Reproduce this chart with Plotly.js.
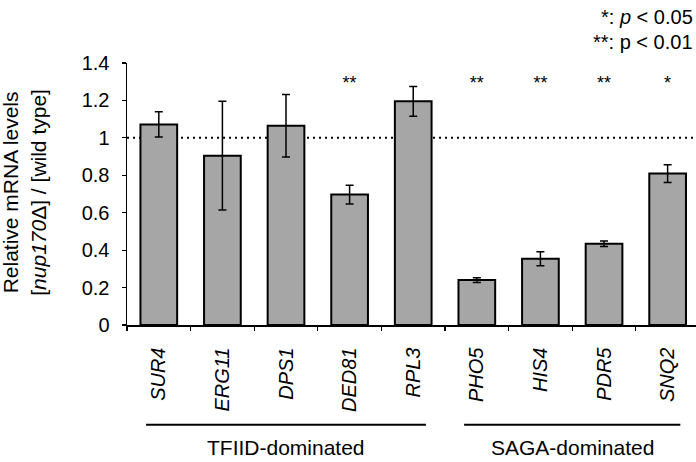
<!DOCTYPE html>
<html>
<head>
<meta charset="utf-8">
<script src="https://cdn.plot.ly/plotly-3.0.1.min.js"></script>
<style>html,body{margin:0;padding:0;background:#fff;}#chart{width:696px;height:462px;}</style>
</head>
<body>
<div id="chart"></div>
<script>
const genes = ['SUR4', 'ERG11', 'DPS1', 'DED81', 'RPL3', 'PHO5', 'HIS4', 'PDR5', 'SNQ2'];
const ratios = [1.072, 0.905, 1.065, 0.697, 1.195, 0.240, 0.354, 0.434, 0.809];
const errors = [0.067, 0.290, 0.167, 0.050, 0.080, 0.013, 0.038, 0.015, 0.047];
const significance = ['', '', '', '**', '', '**', '**', '**', '*'];
const sigLevel = 1.285;
const groupNames = ['TFIID-dominated', 'SAGA-dominated'];
const groupFirst = [0, 5];
const groupLast = [4, 8];
const yTicks = [0, 0.2, 0.4, 0.6, 0.8, 1, 1.2, 1.4];
const yTickText = ['0', '0.2', '0.4', '0.6', '0.8', '1', '1.2', '1.4'];
const referenceLevel = 1;

const FONT = 'Liberation Sans, Arial, sans-serif';

const bars = {
  type: 'bar',
  x: genes,
  y: ratios,
  width: 0.577,
  marker: {color: '#a6a6a6', line: {color: '#000', width: 2}},
  error_y: {type: 'data', array: errors, visible: true, color: '#000', thickness: 1.5, width: 4},
  hoverinfo: 'skip',
  showlegend: false
};
const stars = {
  type: 'scatter',
  mode: 'text',
  x: genes,
  y: genes.map(() => sigLevel),
  text: significance,
  textfont: {family: FONT, size: 18, color: '#000'},
  hoverinfo: 'skip',
  showlegend: false,
  cliponaxis: false
};

const shapes = [{
  type: 'line', xref: 'paper', yref: 'y', x0: 0, x1: 1, y0: referenceLevel, y1: referenceLevel,
  layer: 'below', line: {color: '#000', width: 2, dash: '2px,4px'}
}];
const annotations = [];
groupNames.forEach((name, i) => {
  shapes.push({
    type: 'line', xref: 'x', yref: 'paper', x0: groupFirst[i] - 0.2, x1: groupLast[i] + 0.2,
    y0: -0.381, y1: -0.381, line: {color: '#000', width: 2}
  });
  annotations.push({
    xref: 'x', yref: 'paper', x: (groupFirst[i] + groupLast[i]) / 2, y: -0.469,
    text: name, showarrow: false, xanchor: 'center', yanchor: 'middle',
    font: {family: FONT, size: 21, color: '#000'}
  });
});
annotations.push({
  xref: 'paper', yref: 'paper', x: -0.18, y: 0.507, textangle: -90,
  text: 'Relative mRNA levels<br>[<i>nup170</i>Δ] / [wild type]',
  showarrow: false, xanchor: 'center', yanchor: 'middle',
  font: {family: FONT, size: 21, color: '#000'}
});
annotations.push({
  xref: 'paper', yref: 'paper', x: 0.9985, y: 1.177, xanchor: 'right', yanchor: 'middle',
  text: '*: <i>p</i> &lt; 0.05', showarrow: false,
  font: {family: FONT, size: 20, color: '#000'}
});
annotations.push({
  xref: 'paper', yref: 'paper', x: 0.9985, y: 1.08, xanchor: 'right', yanchor: 'middle',
  text: '**: p &lt; 0.01', showarrow: false,
  font: {family: FONT, size: 20, color: '#000'}
});

const layout = {
  width: 696, height: 462,
  margin: {l: 127, r: 0, t: 62.5, b: 137},
  paper_bgcolor: '#fff', plot_bgcolor: '#fff',
  font: {family: FONT, color: '#000'},
  xaxis: {
    type: 'category',
    range: [-0.5, 8.446],
    tickmode: 'array', tickvals: genes, ticktext: genes.map(g => '<i>' + g + '</i>'),
    tickangle: -90, tickfont: {family: FONT, size: 20, color: '#000'},
    showline: true, linecolor: '#000', linewidth: 1.5,
    ticks: 'outside', tickson: 'boundaries', ticklen: 4, tickwidth: 1.2, tickcolor: '#000',
    ticklabelstandoff: 13,
    showgrid: false, zeroline: false, fixedrange: true
  },
  yaxis: {
    range: [0, 1.4],
    tickmode: 'array', tickvals: yTicks, ticktext: yTickText,
    tickfont: {family: FONT, size: 20, color: '#000'},
    showline: true, linecolor: '#000', linewidth: 1.5,
    ticks: 'outside', ticklen: 4, tickwidth: 1.2, tickcolor: '#000',
    ticklabelstandoff: 8,
    showgrid: false, zeroline: false, fixedrange: true
  },
  shapes: shapes,
  annotations: annotations,
  showlegend: false
};

Plotly.newPlot('chart', [bars, stars], layout, {displayModeBar: false, staticPlot: true});
</script>
</body>
</html>
